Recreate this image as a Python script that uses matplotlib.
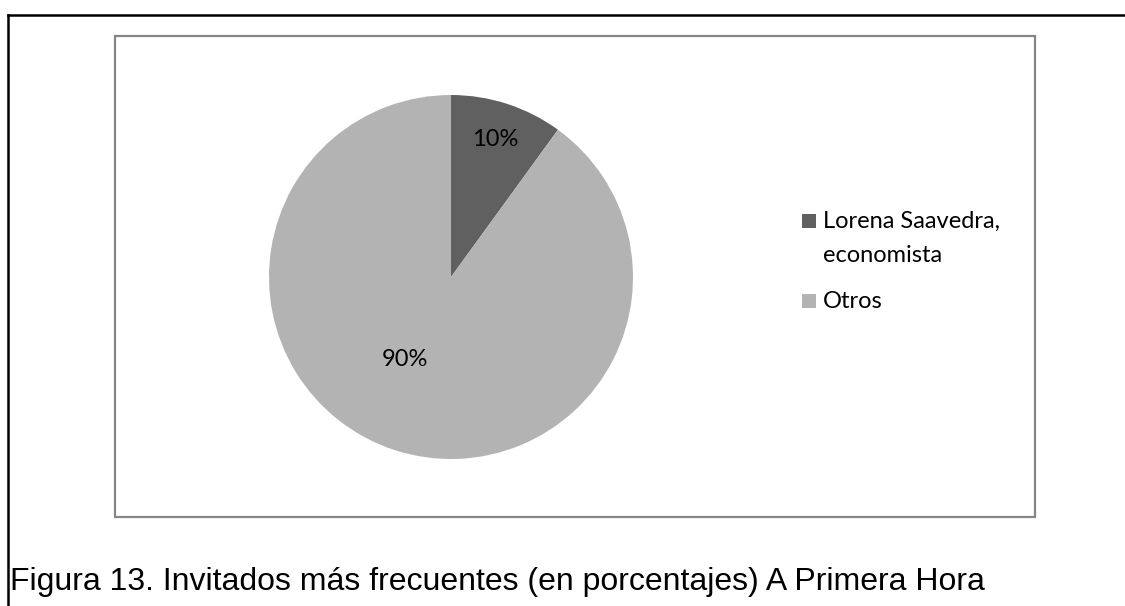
import matplotlib
matplotlib.use("Agg")
import matplotlib.pyplot as plt
from matplotlib.lines import Line2D
from matplotlib.patches import Rectangle

categories = ["Lorena Saavedra,\neconomista", "Otros"]
values = [10, 90]
colors = ["#606060", "#b3b3b3"]
caption = "Figura 13. Invitados más frecuentes (en porcentajes) A Primera Hora"

W, H = 1125, 606
fig = plt.figure(figsize=(W / 100, H / 100), dpi=100)
fig.patch.set_facecolor("white")

def fx(px):
    return px / W

def fy(py):
    return 1 - py / H

# outer document frame (top and left lines)
fig.add_artist(Line2D([fx(8), 1.0], [fy(15), fy(15)], color="black", lw=1.8, transform=fig.transFigure))
fig.add_artist(Line2D([fx(8), fx(8)], [fy(15), 0.0], color="black", lw=1.8, transform=fig.transFigure))

# chart area box
fig.add_artist(Rectangle((fx(115), fy(517)), fx(1035) - fx(115), fy(36) - fy(517),
                         transform=fig.transFigure, fill=False, edgecolor="#868686", lw=1.6))

# pie axes
cx, cy, r = 451, 277, 182
ax = fig.add_axes([fx(cx - r), fy(cy + r), 2 * r / W, 2 * r / H])
wedges, texts, autotexts = ax.pie(values, colors=colors, startangle=90, counterclock=False,
                                  autopct=lambda p: f"{p:.0f}%", pctdistance=0.8,
                                  wedgeprops=dict(linewidth=0),
                                  textprops=dict(fontsize=17, family="Lato", color="black"))
ax.set_xlim(-1, 1)
ax.set_ylim(-1, 1)
ax.set_aspect("equal")
ax.axis("off")
# Excel-like label placement
for t in autotexts:
    t.set_va("center_baseline")
autotexts[0].set_position((0.242, 0.765))
autotexts[1].set_position((-0.255, -0.445))

# legend (Excel style: marker aligned with first text line)
row_tops = [214, 294]
for w, label, top in zip(wedges, categories, row_tops):
    fig.add_artist(Rectangle((fx(802), fy(top + 14)), 14 / W, 14 / H, transform=fig.transFigure,
                             facecolor=w.get_facecolor(), edgecolor="none"))
    for k, line in enumerate(label.split("\n")):
        fig.text(fx(823), fy(top + 14 + 34 * k), line, fontsize=17, family="Lato",
                 color="black", ha="left", va="baseline")

fig.text(fx(10), fy(590), caption, fontsize=23, family="Liberation Sans", color="black",
         ha="left", va="baseline")

fig.savefig("out.png", dpi=100, facecolor="white")
